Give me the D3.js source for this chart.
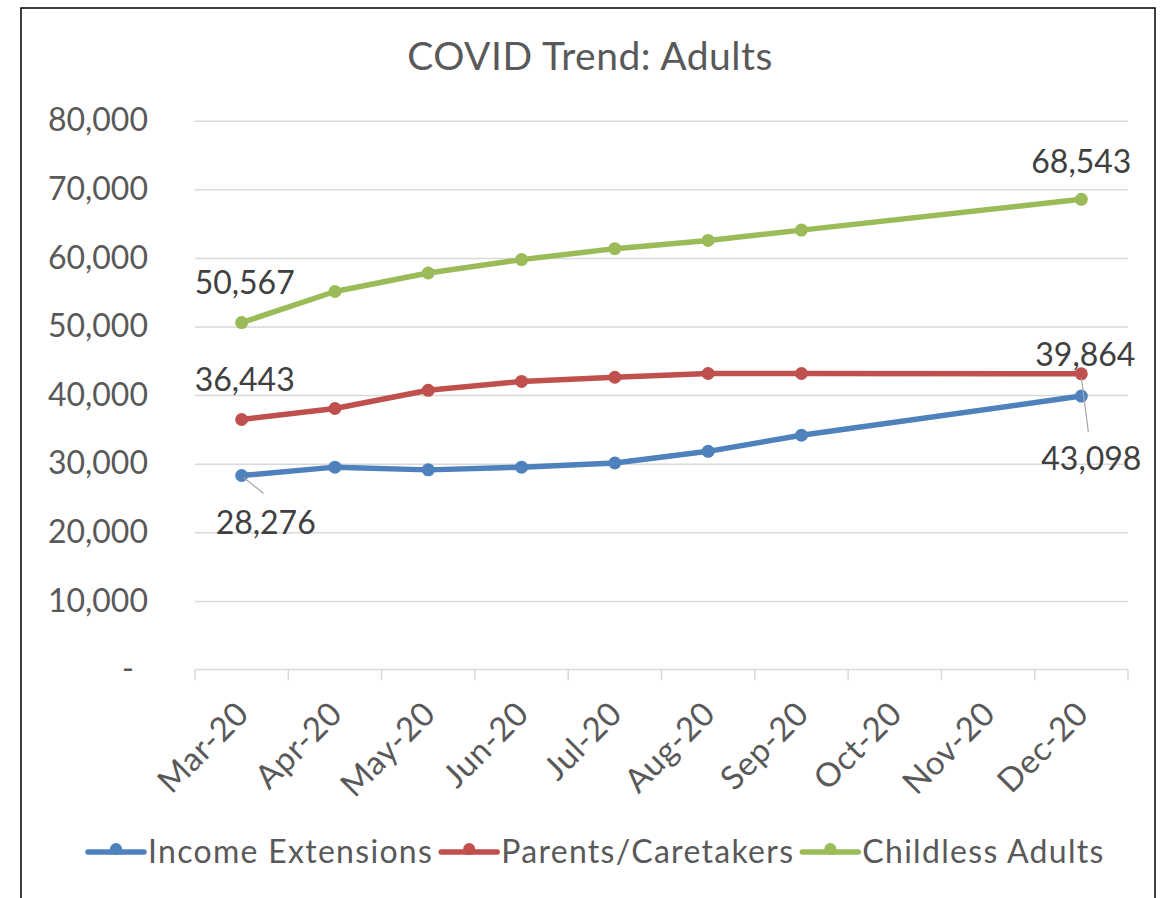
<!DOCTYPE html>
<html>
<head>
<meta charset="utf-8">
<script src="https://cdn.jsdelivr.net/npm/d3@7"></script>
<style>
  body { margin: 0; background: #fff; }
  text { font-family: Lato, "Open Sans", sans-serif; }
</style>
</head>
<body>
<div id="chart-area"></div>
<script>
// data
const months = ["Mar-20", "Apr-20", "May-20", "Jun-20", "Jul-20", "Aug-20", "Sep-20", "Oct-20", "Nov-20", "Dec-20"];
const incomeExtensions = [28276, 29500, 29100, 29500, 30100, 31800, 34150, null, null, 39864];
const parentsCaretakers = [36443, 38050, 40700, 42000, 42600, 43150, 43150, null, null, 43098];
const childlessAdults = [50567, 55100, 57800, 59750, 61350, 62550, 64050, null, null, 68543];
const seriesNames = ["Income Extensions", "Parents/Caretakers", "Childless Adults"];
const seriesColors = ["#4F81BD", "#C0504D", "#9BBB59"];
const yTicks = [0, 10000, 20000, 30000, 40000, 50000, 60000, 70000, 80000];

const W = 1166, H = 898;
const PLOT = { LEFT: 195, RIGHT: 1128, TOP: 120.7, BOTTOM: 669.5 };

const svg = d3.select("#chart-area").append("svg")
  .attr("width", W).attr("height", H);

svg.append("rect").attr("width", W).attr("height", H).attr("fill", "#fff");

// chart border
svg.append("rect")
  .attr("x", 21).attr("y", 8)
  .attr("width", 1134).attr("height", 910)
  .attr("fill", "none").attr("stroke", "#000").attr("stroke-width", 1.5);

// title
svg.append("text")
  .attr("x", 590).attr("y", 70)
  .attr("text-anchor", "middle")
  .attr("font-size", "39px")
  .attr("letter-spacing", "0.5px")
  .attr("fill", "#595959")
  .text("COVID Trend: Adults");

// scales
const x = d3.scaleBand().domain(months).range([PLOT.LEFT, PLOT.RIGHT]);
const y = d3.scaleLinear().domain([0, 80000]).range([PLOT.BOTTOM, PLOT.TOP]);
const cx = (m) => x(m) + x.bandwidth() / 2;

// y axis + gridlines
const yAxis = svg.append("g")
  .attr("transform", `translate(${PLOT.LEFT}, 0)`)
  .call(d3.axisLeft(y)
    .tickValues(yTicks)
    .tickSize(-(PLOT.RIGHT - PLOT.LEFT))
    .tickPadding(47)
    .tickFormat((d) => d === 0 ? "-" : d3.format(",")(d)));
yAxis.select(".domain").remove();
yAxis.selectAll(".tick line")
  .attr("stroke", (d) => d === 0 ? "none" : "#d9d9d9")
  .attr("stroke-width", 1.5);
yAxis.selectAll(".tick text")
  .attr("font-size", "32px")
  .attr("fill", "#595959")
  .attr("font-family", "Lato, sans-serif")
  .attr("dx", (d) => d === 0 ? -14 : 0);

// x axis (Excel style: ticks between categories)
const xAxis = svg.append("g");
xAxis.append("line")
  .attr("x1", PLOT.LEFT).attr("x2", PLOT.RIGHT)
  .attr("y1", y(0)).attr("y2", y(0))
  .attr("stroke", "#d9d9d9").attr("stroke-width", 1.5);
xAxis.selectAll(".xtick")
  .data(months.map((m) => x(m)).concat([PLOT.RIGHT]))
  .join("line")
  .attr("class", "xtick")
  .attr("x1", (d) => d).attr("x2", (d) => d)
  .attr("y1", y(0)).attr("y2", y(0) + 11)
  .attr("stroke", "#d9d9d9").attr("stroke-width", 1.5);
xAxis.selectAll(".xlabel")
  .data(months)
  .join("text")
  .attr("class", "xlabel")
  .attr("text-anchor", "end")
  .attr("font-size", "33px")
  .attr("letter-spacing", "0.6px")
  .attr("fill", "#595959")
  .attr("transform", (d) => `translate(${cx(d) + 1}, ${y(0) + 38}) rotate(-45)`)
  .attr("dy", "0.35em")
  .text((d) => d);

// lines
const allSeries = [incomeExtensions, parentsCaretakers, childlessAdults];
const line = d3.line()
  .x((d) => cx(d.month))
  .y((d) => y(d.value));

allSeries.forEach((vals, i) => {
  const pts = months
    .map((m, j) => ({ month: m, value: vals[j] }))
    .filter((d) => d.value !== null);
  svg.append("path")
    .attr("d", line(pts))
    .attr("fill", "none")
    .attr("stroke", seriesColors[i])
    .attr("stroke-width", 5.5)
    .attr("stroke-linejoin", "round")
    .attr("stroke-linecap", "round");
  svg.selectAll(null)
    .data(pts)
    .join("circle")
    .attr("cx", (d) => cx(d.month))
    .attr("cy", (d) => y(d.value))
    .attr("r", 6.5)
    .attr("fill", seriesColors[i]);
});

// data labels
const fmt = d3.format(",");
const labelGroup = svg.append("g")
  .attr("font-size", "32px")
  .attr("fill", "#404040");

// leader lines
const lead = (x1, y1, x2, y2) => svg.append("line")
  .attr("x1", x1).attr("y1", y1).attr("x2", x2).attr("y2", y2)
  .attr("stroke", "#a6a6a6").attr("stroke-width", 1.2);

const mar = months[0], dec = months[9];
lead(cx(mar) + 2, y(incomeExtensions[0]) + 2, cx(mar) + 22, y(incomeExtensions[0]) + 18);
lead(cx(dec), y(parentsCaretakers[9]) + 4, cx(dec) + 7, y(parentsCaretakers[9]) + 58);

labelGroup.append("text")
  .attr("x", cx(mar) - 47).attr("y", y(childlessAdults[0]) - 29)
  .text(fmt(childlessAdults[0]));
labelGroup.append("text")
  .attr("x", cx(mar) - 47).attr("y", y(parentsCaretakers[0]) - 29)
  .text(fmt(parentsCaretakers[0]));
labelGroup.append("text")
  .attr("x", cx(mar) - 26).attr("y", y(incomeExtensions[0]) + 58)
  .text(fmt(incomeExtensions[0]));
labelGroup.append("text")
  .attr("x", cx(dec)).attr("y", y(childlessAdults[9]) - 26)
  .attr("text-anchor", "middle")
  .text(fmt(childlessAdults[9]));
labelGroup.append("text")
  .attr("x", cx(dec) + 4).attr("y", y(parentsCaretakers[9]) - 8)
  .attr("text-anchor", "middle")
  .text(fmt(incomeExtensions[9]));
labelGroup.append("text")
  .attr("x", cx(dec) + 10).attr("y", y(parentsCaretakers[9]) + 96)
  .attr("text-anchor", "middle")
  .text(fmt(parentsCaretakers[9]));

// legend
const legend = svg.append("g").attr("transform", "translate(0, 852)");
let lx = 88;
seriesNames.forEach((name, i) => {
  const item = legend.append("g").attr("transform", `translate(${lx}, 0)`);
  item.append("line")
    .attr("x1", 0).attr("x2", 56)
    .attr("stroke", seriesColors[i]).attr("stroke-width", 5.5)
    .attr("stroke-linecap", "round");
  item.append("circle").attr("cx", 28).attr("cy", -3).attr("r", 6).attr("fill", seriesColors[i]);
  const t = item.append("text")
    .attr("x", 60).attr("dy", "0.35em")
    .attr("font-size", "32px")
    .attr("letter-spacing", "1.3px")
    .attr("fill", "#595959")
    .text(name);
  lx += 60 + t.node().getComputedTextLength() + 8;
});
</script>
</body>
</html>
